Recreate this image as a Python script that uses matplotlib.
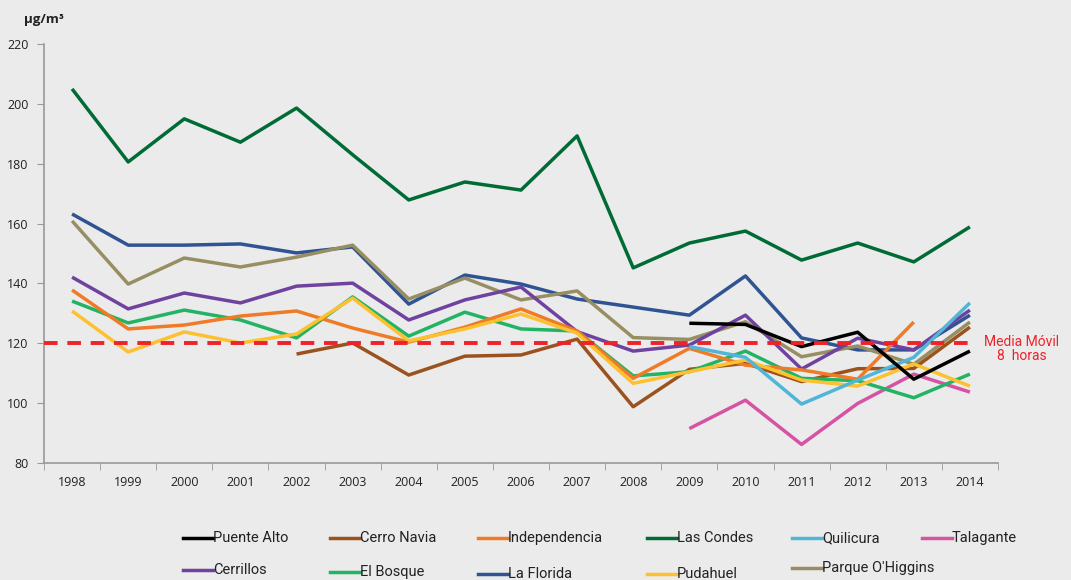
import matplotlib.pyplot as plt
from matplotlib.lines import Line2D
import numpy as np

years = list(range(1998, 2015))

# valores (NaN = sin dato)
nan = np.nan
puente_alto = [nan] * 11 + [126.7, 126.3, 118.9, 123.7, 108.0, 117.4]
cerro_navia = [nan] * 4 + [116.4, 120.1, 109.4, 115.7, 116.1, 121.4, 98.8, 111.3, 113.3, 107.2, 111.5, 111.6, 125.4]
independencia = [137.8, 124.8, 126.1, 129.1, 130.8, 125.1, 120.4, 125.4, 131.5, 124.1, 108.3, 118.3, 112.7, 111.1, 108.0, 127.1, nan]
las_condes = [205.0, 180.6, 195.0, 187.2, 198.6, 183.0, 167.9, 173.9, 171.2, 189.3, 145.2, 153.5, 157.5, 147.8, 153.5, 147.2, 158.9]
quilicura = [nan] * 11 + [118.9, 115.3, 99.7, 107.7, 115.3, 133.5]
talagante = [nan] * 11 + [91.5, 101.0, 86.2, 99.9, 109.7, 103.7]
cerrillos = [142.1, 131.5, 136.8, 133.5, 139.1, 140.1, 127.8, 134.5, 138.8, 123.9, 117.4, 119.4, 129.4, 111.4, 121.7, 117.8, 131.1]
el_bosque = [134.1, 126.8, 131.1, 127.8, 121.8, 135.5, 122.4, 130.4, 124.8, 124.1, 109.1, 110.5, 117.4, 108.3, 107.5, 101.8, 109.7]
la_florida = [163.2, 152.8, 152.8, 153.2, 150.2, 152.2, 133.1, 142.8, 139.8, 134.8, 132.1, 129.4, 142.5, 121.8, 117.8, 117.8, 129.4]
pudahuel = [130.8, 117.1, 123.8, 120.1, 123.1, 135.1, 120.8, 124.8, 129.8, 123.4, 106.6, 110.5, 114.4, 107.7, 105.7, 113.1, 105.7]
parque_ohiggins = [160.9, 139.8, 148.5, 145.5, 148.8, 152.8, 134.8, 141.8, 134.5, 137.5, 121.9, 121.3, 127.2, 115.5, 119.1, 113.0, 127.1]

norma = 120

series = [
    ("Puente Alto", puente_alto, "#000000"),
    ("Cerro Navia", cerro_navia, "#9a531f"),
    ("Independencia", independencia, "#f07b27"),
    ("Las Condes", las_condes, "#006b35"),
    ("Quilicura", quilicura, "#4fb6d8"),
    ("Talagante", talagante, "#d653a4"),
    ("Cerrillos", cerrillos, "#6f42a0"),
    ("El Bosque", el_bosque, "#22b464"),
    ("La Florida", la_florida, "#2f5393"),
    ("Pudahuel", pudahuel, "#fdc02f"),
    ("Parque O'Higgins", parque_ohiggins, "#978f63"),
]
# orden de dibujo (ultimo queda encima)
draw_order = ["Las Condes", "La Florida", "Parque O'Higgins", "Cerrillos", "Talagante",
              "Cerro Navia", "El Bosque", "Independencia", "Pudahuel", "Quilicura", "Puente Alto"]

bg = "#ebebeb"
narrow = ["Roboto", "DejaVu Sans"]
fig = plt.figure(figsize=(10.71, 5.8), dpi=100, facecolor=bg)
ax = fig.add_axes([0.0411, 0.2017, 0.8907, 0.7224], facecolor=bg)

x = np.arange(len(years))
lookup = {n: (v, c) for n, v, c in series}
for name in draw_order:
    vals, col = lookup[name]
    ax.plot(x, vals, color=col, lw=2.5, solid_capstyle="butt", zorder=3)

ax.axhline(norma, xmax=0.975, color="#ee2229", lw=2.8, ls=(0, (3.5, 2.5)), zorder=4)
fig.text(1022 / 1071, 1 - 349 / 580, "Media Móvil\n8  horas", color="#ee2229", fontsize=10,
         ha="center", va="center", multialignment="center", family=narrow, linespacing=1.0)

ax.set_xlim(-0.5, 16.5)
ax.set_ylim(80, 220)
ax.set_yticks(range(80, 221, 20))
ax.set_xticks(x)
ax.set_xticklabels([str(y) for y in years])
ax.set_xticks(np.arange(-0.5, 17, 1), minor=True)
ax.tick_params(axis="x", which="major", length=0, pad=9)
ax.tick_params(axis="x", which="minor", length=5, color="#999999", direction="out")
ax.tick_params(axis="y", length=5, color="#999999", direction="out", pad=6)
for lab in ax.get_xticklabels() + ax.get_yticklabels():
    lab.set_family(["Open Sans", "DejaVu Sans"])
    lab.set_fontsize(9)
    lab.set_color("#222222")

for s in ["top", "right"]:
    ax.spines[s].set_visible(False)
for s in ["left", "bottom"]:
    ax.spines[s].set_color("#999999")
    ax.spines[s].set_linewidth(1.2)

fig.text(44 / 1071, 1 - 19 / 580, "µg/m³", fontsize=9.5, fontweight="bold", ha="center", va="center",
         family=["Open Sans", "DejaVu Sans"], color="#222222")

# leyenda manual (dos filas, como en el original)
col_x = [183, 330, 478, 647, 792, 922]
row_y = [[538, 538, 538, 538, 538, 538], [570, 572, 574, 574, 568]]
for i, (name, vals, col) in enumerate(series):
    r, c = divmod(i, 6)
    px, py = col_x[c], row_y[r][c]
    fx, fy = px / 1071, 1 - py / 580
    fig.add_artist(Line2D([fx, fx + 30 / 1071], [fy, fy], color=col, lw=2.5,
                          transform=fig.transFigure))
    fig.text(fx + 30 / 1071, fy, name, fontsize=10.5, va="center", ha="left",
             family=narrow, color="#222222")

fig.savefig("out.png", dpi=100, facecolor=bg)
